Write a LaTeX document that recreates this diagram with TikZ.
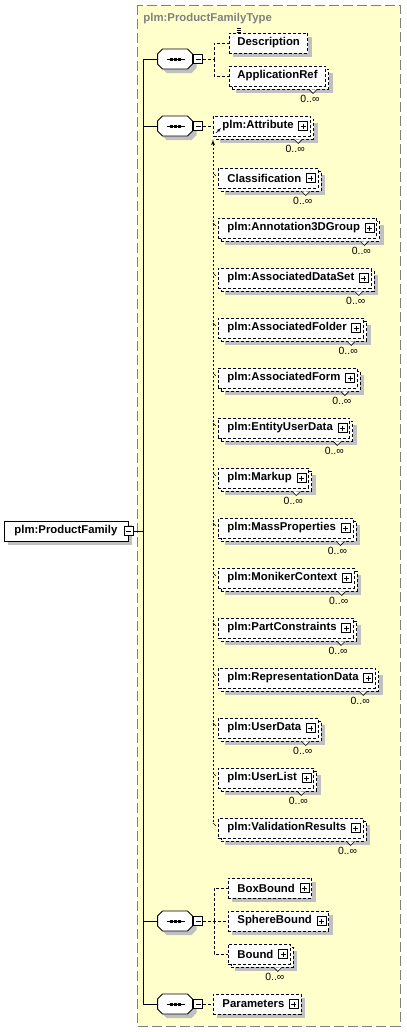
\documentclass[tikz,border=0pt]{standalone}
\usepackage{fontspec}
\setmainfont{Liberation Sans}
\usepackage{tikz}
\usetikzlibrary{shapes.geometric, shadows, arrows, positioning, calc}
\definecolor{TypeYellow}{HTML}{FFFFCC}
\definecolor{ShadowGrey}{HTML}{C0C0C0}
\definecolor{FrameGrey}{HTML}{808080}

\begin{document}
\begin{tikzpicture}[x=1bp, y=-1bp, >=latex', line width=0.9bp]
    \tikzstyle{elem} = [rectangle, draw, fill=white, dash pattern=on 3bp off 2bp, anchor=west, minimum height=20bp, inner xsep=9bp, inner ysep=0bp, font=\fontsize{11.4}{13}\selectfont\bfseries]
    \tikzstyle{onebox} = [drop shadow={shadow xshift=4bp, shadow yshift=-4bp, fill=ShadowGrey, opacity=1}]
    \tikzstyle{twobox} = [general shadow={shadow xshift=7bp, shadow yshift=-7bp, fill=ShadowGrey}, general shadow={shadow xshift=3bp, shadow yshift=-3bp, fill=white, draw=black, dash pattern=on 3bp off 2bp}]
    \tikzstyle{seq} = [rectangle, minimum width=35bp, minimum height=20bp, inner sep=0bp]
    \tikzstyle{minusbox} = [rectangle, draw, solid, fill=white, minimum size=9bp, inner sep=0bp, line width=0.7bp, path picture={\draw ($(path picture bounding box.west)+(2bp,0)$) -- ($(path picture bounding box.east)+(-2bp,0)$);}]
    \tikzstyle{plusbox} = [rectangle, draw, solid, fill=white, minimum size=9bp, inner sep=0bp, line width=0.7bp, path picture={\draw ($(path picture bounding box.west)+(2bp,0)$) -- ($(path picture bounding box.east)+(-2bp,0)$); \draw ($(path picture bounding box.north)+(0,-2bp)$) -- ($(path picture bounding box.south)+(0,2bp)$);}]
    \tikzstyle{occ} = [font=\fontsize{10.5}{12}\selectfont, inner sep=0bp, anchor=north east]
    \tikzstyle{line} = [draw, solid, black]
    \tikzstyle{branch} = [draw, dash pattern=on 3bp off 2bp]
    \tikzstyle{subst} = [draw, dash pattern=on 2bp off 2bp]

    \useasboundingbox (0,0) rectangle (406,1032);

    % complex type frame
    \draw[FrameGrey, fill=TypeYellow, dash pattern=on 10bp off 4bp] (137,5) rectangle (400,1026);
    \node[anchor=west, inner sep=0bp, text=FrameGrey, font=\fontsize{11.4}{13}\selectfont\bfseries] (typename) at (143,19) {plm:ProductFamilyType};

    % root element
    \node[elem, solid, onebox, inner xsep=10bp] (pf) at (4,531) {plm:ProductFamily\hspace*{1bp}};
    \node[minusbox] (pfm) at (pf.east) {};

    % sequences
    \coordinate (trunktop) at (143,59);
    \coordinate (trunkbot) at (143,1004);
    \path[line] (trunktop) -- (trunkbot);
    \path[line] (pfm.east) -- (pfm.east -| trunktop);
    \foreach \s/\y in {1/59, 2/126, 3/921, 4/1004} {
        \node[seq] (s\s) at (175.5,\y) {};
        \fill[ShadowGrey] ($(s\s.west)+(4,-1)$) -- ++(5,-5) -- ++(25,0) -- ++(5,5) -- ++(0,10) -- ++(-5,5) -- ++(-25,0) -- ++(-5,-5) -- cycle;
        \draw[fill=white] ($(s\s.west)+(0,-5)$) -- ++(5,-5) -- ++(25,0) -- ++(5,5) -- ++(0,10) -- ++(-5,5) -- ++(-25,0) -- ++(-5,-5) -- cycle;
        \node[minusbox, right=0bp of s\s] (m\s) {};
        \path[line] (s\s.west -| trunktop) -- (s\s.west);
        \draw[line width=0.8bp] (s\s.center) +(-9,0) -- +(9,0);
        \foreach \dx in {-4,0,4}
            \fill ($(s\s.center)+(\dx,0)$) +(-1.5,-1.5) rectangle +(1.5,1.5);
    }

    % description, application ref
    \node[elem, onebox, inner xsep=8bp] (desc) at (229,43) {Description};
    \node[elem, twobox, inner xsep=8bp] (appref) at (229,76) {ApplicationRef};
    \coordinate (b1) at ($(m1.east)+(11,0)$);
    \path[branch] (m1.east) -- (b1) |- (desc.west);
    \path[branch] (b1) |- (appref.west);
    \foreach \dy in {0,2,4}
        \draw[line width=0.6bp] ($(desc.north west)+(8,-4+\dy)$) -- ++(4,0);

    % attribute substitution group
    \node[elem, twobox] (attr) at (213,126) {plm:Attribute\hspace*{8bp}};
    \path[branch] (m2.east) -- (attr.west);
    \draw[->, line width=0.6bp] ($(attr.west)+(3,7)$) -- ++(5,-5);
    \coordinate (subtop) at ($(attr.south west)+(0,3)$);
    \coordinate (subbot) at (213,822);
    \path[subst, ->] (subbot) -- (subtop);
    \foreach \nm/\txt [count=\i] in {cls/Classification, a3d/plm:Annotation3DGroup, ads/plm:AssociatedDataSet, afo/plm:AssociatedFolder, afm/plm:AssociatedForm, eud/plm:EntityUserData, mku/plm:Markup, mpr/plm:MassProperties, mon/plm:MonikerContext, pco/plm:PartConstraints, rep/plm:RepresentationData, usd/plm:UserData, usl/plm:UserList, val/plm:ValidationResults} {
        \node[elem, twobox] (\nm) at (218,128+50*\i) {\txt\hspace*{8bp}};
        \draw[line width=0.6bp] ($(\nm.west)+(-5,-5)$) -- ++(3,3);
    }

    % bounds
    \node[elem, onebox] (boxb) at (228,888) {BoxBound\hspace*{8bp}};
    \node[elem, onebox] (sphb) at (228,921) {SphereBound\hspace*{8bp}};
    \node[elem, twobox] (bnd) at (228,954) {Bound\hspace*{8bp}};
    \coordinate (b3) at ($(m3.east)+(11,0)$);
    \path[branch] (m3.east) -- (sphb.west);
    \path[branch] (b3) |- (boxb.west);
    \path[branch] (b3) |- (bnd.west);

    % parameters
    \node[elem, onebox] (params) at (213,1004) {Parameters\hspace*{8bp}};
    \path[branch] (m4.east) -- (params.west);

    % expand boxes and occurrences
    \foreach \nm in {attr, cls, a3d, ads, afo, afm, eud, mku, mpr, mon, pco, rep, usd, usl, val, boxb, sphb, bnd, params}
        \node[plusbox, left=3bp of \nm.east] (\nm-p) {};
    \foreach \nm in {appref, attr, cls, a3d, ads, afo, afm, eud, mku, mpr, mon, pco, rep, usd, usl, val, bnd} {
        \draw[solid, fill=white, line width=0.6bp] ($(\nm.south east)+(-17,3)$) -- ++(4,4) -- ++(4,-4);
        \node[occ] (\nm-o) at ($(\nm.south east)+(-6,8)$) {0..∞};
    }
\end{tikzpicture}
\end{document}
